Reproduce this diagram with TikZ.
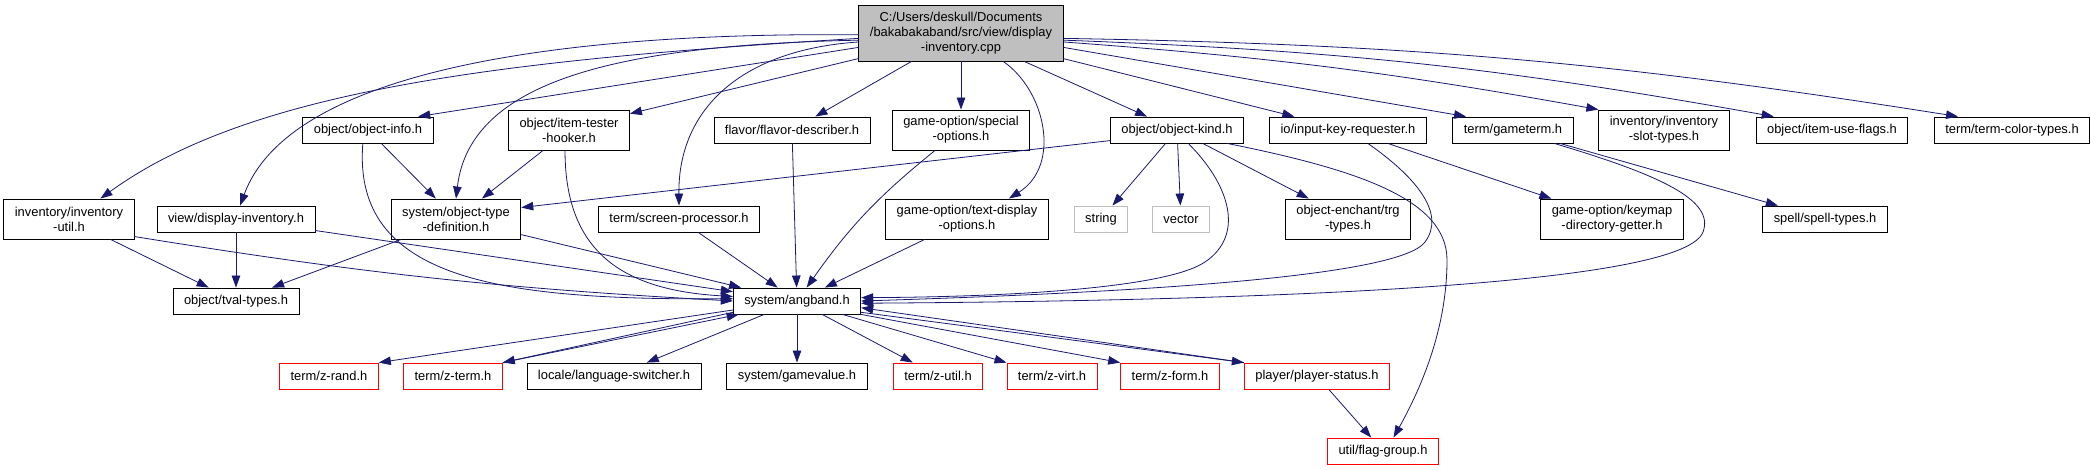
\documentclass[tikz,border=0pt]{standalone}
\usepackage{fontspec}
\setmainfont{Liberation Sans}
\usetikzlibrary{arrows.meta}
\definecolor{edgeblue}{HTML}{191970}
\definecolor{boxgrey}{HTML}{BFBFBF}

\begin{document}
\begin{tikzpicture}[x=1pt,y=1pt]
  % Base settings
  \tikzset{
    mybox/.style={draw=black, line width=0.9pt, fill=white, inner xsep=11pt, inner ysep=2pt,
      minimum height=26pt, align=center, font=\fontsize{12.9}{15}\selectfont},
    mybox2/.style={mybox, minimum height=40pt},
    myred/.style={mybox, draw=red},
    mygrey/.style={mybox, draw=boxgrey},
    myroot/.style={mybox, fill=boxgrey, minimum height=56pt},
    myedge/.style={draw=edgeblue, line width=0.8pt, -{Triangle[length=12pt,width=8.5pt]}}
  }

  \path[use as bounding box, fill=white] (0,0) rectangle (2091,-469);

  % --- Nodes ---
  \node[myroot] (main) at (961,-33) {C:/Users/deskull/Documents\\/bakabakaband/src/view/display\\-inventory.cpp};

  % first row
  \node[mybox] (objinfo) at (368,-130) {object/object-info.h};
  \node[mybox2] (hooker) at (569,-130) {object/item-tester\\-hooker.h};
  \node[mybox] (flavor) at (792,-130) {flavor/flavor-describer.h};
  \node[mybox2] (special) at (961,-130) {game-option/special\\-options.h};
  \node[mybox] (objkind) at (1177,-130) {object/object-kind.h};
  \node[mybox] (inputkey) at (1348,-130) {io/input-key-requester.h};
  \node[mybox] (gameterm) at (1513,-130) {term/gameterm.h};
  \node[mybox2] (invslot) at (1664,-130) {inventory/inventory\\-slot-types.h};
  \node[mybox] (itemuse) at (1832,-130) {object/item-use-flags.h};
  \node[mybox] (termcolor) at (2012,-130) {term/term-color-types.h};

  % second row
  \node[mybox2] (invutil) at (69,-219) {inventory/inventory\\-util.h};
  \node[mybox] (view) at (236,-219) {view/display-inventory.h};
  \node[mybox2] (objtype) at (456,-219) {system/object-type\\-definition.h};
  \node[mybox] (screen) at (679,-219) {term/screen-processor.h};
  \node[mybox2] (textdisp) at (967,-219) {game-option/text-display\\-options.h};
  \node[mygrey] (string) at (1101,-219) {string};
  \node[mygrey] (vector) at (1181,-219) {vector};
  \node[mybox2] (trg) at (1348,-219) {object-enchant/trg\\-types.h};
  \node[mybox2] (keymap) at (1612,-219) {game-option/keymap\\-directory-getter.h};
  \node[mybox] (spell) at (1825,-219) {spell/spell-types.h};

  % third row
  \node[mybox] (tval) at (236,-301) {object/tval-types.h};
  \node[mybox] (angband) at (797,-301) {system/angband.h};

  % fourth row
  \node[myred] (zrand) at (329,-376) {term/z-rand.h};
  \node[myred] (zterm) at (453,-376) {term/z-term.h};
  \node[mybox] (langsw) at (614,-376) {locale/language-switcher.h};
  \node[mybox] (gamevalue) at (797,-376) {system/gamevalue.h};
  \node[myred] (zutil) at (938,-376) {term/z-util.h};
  \node[myred] (zvirt) at (1052,-376) {term/z-virt.h};
  \node[myred] (zform) at (1170,-376) {term/z-form.h};
  \node[myred] (pstatus) at (1317,-376) {player/player-status.h};

  % last row
  \node[myred] (flaggroup) at (1383,-451) {util/flag-group.h};

  % --- Edges from the source file ---
  \draw[myedge] (main.183) .. controls (500,-60) and (250,-90) .. (invutil.33);
  \draw[myedge] (main.181) .. controls (560,-32) and (290,-70) .. (view.73);
  \draw[myedge] (main.188) -- (objinfo.15);
  \draw[myedge] (main.184) .. controls (620,-45) and (470,-80) .. (objtype.north);
  \draw[myedge] (main.194) -- (hooker.15);
  \draw[myedge] (main.185) .. controls (740,-50) and (678,-110) .. (screen.north);
  \draw[myedge] (main) -- (flavor);
  \draw[myedge] (main) -- (special);
  \draw[myedge] (main.326) .. controls (1045,-90) and (1062,-165) .. (textdisp.26);
  \draw[myedge] (main) -- (objkind);
  \draw[myedge] (main) -- (inputkey);
  \draw[myedge] (main.352) -- (gameterm.164);
  \draw[myedge] (main.355) to[bend left=3] (invslot.north west);
  \draw[myedge] (main.356) to[bend left=4] (itemuse.167);
  \draw[myedge] (main.357) to[bend left=4] (termcolor.166);

  % --- Edges from the first row ---
  \draw[myedge] (objinfo) -- (objtype);
  \draw[myedge] (objinfo.249) .. controls (352,-280) and (500,-300) .. (angband.178);
  \draw[myedge] (hooker) -- (objtype);
  \draw[myedge] (hooker.259) .. controls (565,-250) and (620,-290) .. (angband.176);
  \draw[myedge] (flavor) -- (angband);
  \draw[myedge] (special) to[bend right=8] (angband);
  \draw[myedge] (objkind.189) -- (objtype.10);
  \draw[myedge] (objkind) -- (string);
  \draw[myedge] (objkind) -- (vector);
  \draw[myedge] (objkind) -- (trg);
  \draw[myedge] (objkind.310) .. controls (1230,-185) and (1245,-235) .. (1205,-262)
    .. controls (1165,-289) and (1000,-297) .. (angband.3);
  \draw[myedge] (objkind.345) .. controls (1360,-170) and (1447,-200) .. (1447,-260)
    .. controls (1447,-330) and (1420,-390) .. (flaggroup.52);
  \draw[myedge] (inputkey) -- (keymap);
  \draw[myedge] (inputkey.326) .. controls (1420,-180) and (1445,-215) .. (1425,-242)
    .. controls (1400,-276) and (1150,-292) .. (angband.0);
  \draw[myedge] (gameterm) -- (spell);
  \draw[myedge] (gameterm.342) .. controls (1660,-175) and (1715,-200) .. (1703,-232)
    .. controls (1685,-280) and (1350,-300) .. (angband.358);

  % --- Edges from the second row ---
  \draw[myedge] (invutil) -- (tval);
  \draw[myedge] (invutil.345) to[bend right=3] (angband.180);
  \draw[myedge] (view) -- (tval);
  \draw[myedge] (view) -- (angband);
  \draw[myedge] (objtype) -- (tval);
  \draw[myedge] (objtype) -- (angband);
  \draw[myedge] (screen) -- (angband);
  \draw[myedge] (textdisp) -- (angband);

  % --- Edges from system/angband.h ---
  \draw[myedge] (angband.188) -- (zrand.north east);
  \draw[myedge] (angband.190) -- (zterm.north east);
  \draw[myedge] (zterm.north east) -- (angband.193);
  \draw[myedge] (angband) -- (langsw);
  \draw[myedge] (angband) -- (gamevalue);
  \draw[myedge] (angband) -- (zutil);
  \draw[myedge] (angband) -- (zvirt);
  \draw[myedge] (angband.south east) -- (zform.north west);
  \draw[myedge] (angband.350) -- (pstatus.north west);
  \draw[myedge] (pstatus.north west) -- (angband.354);
  \draw[myedge] (pstatus) -- (flaggroup);
\end{tikzpicture}
\end{document}
